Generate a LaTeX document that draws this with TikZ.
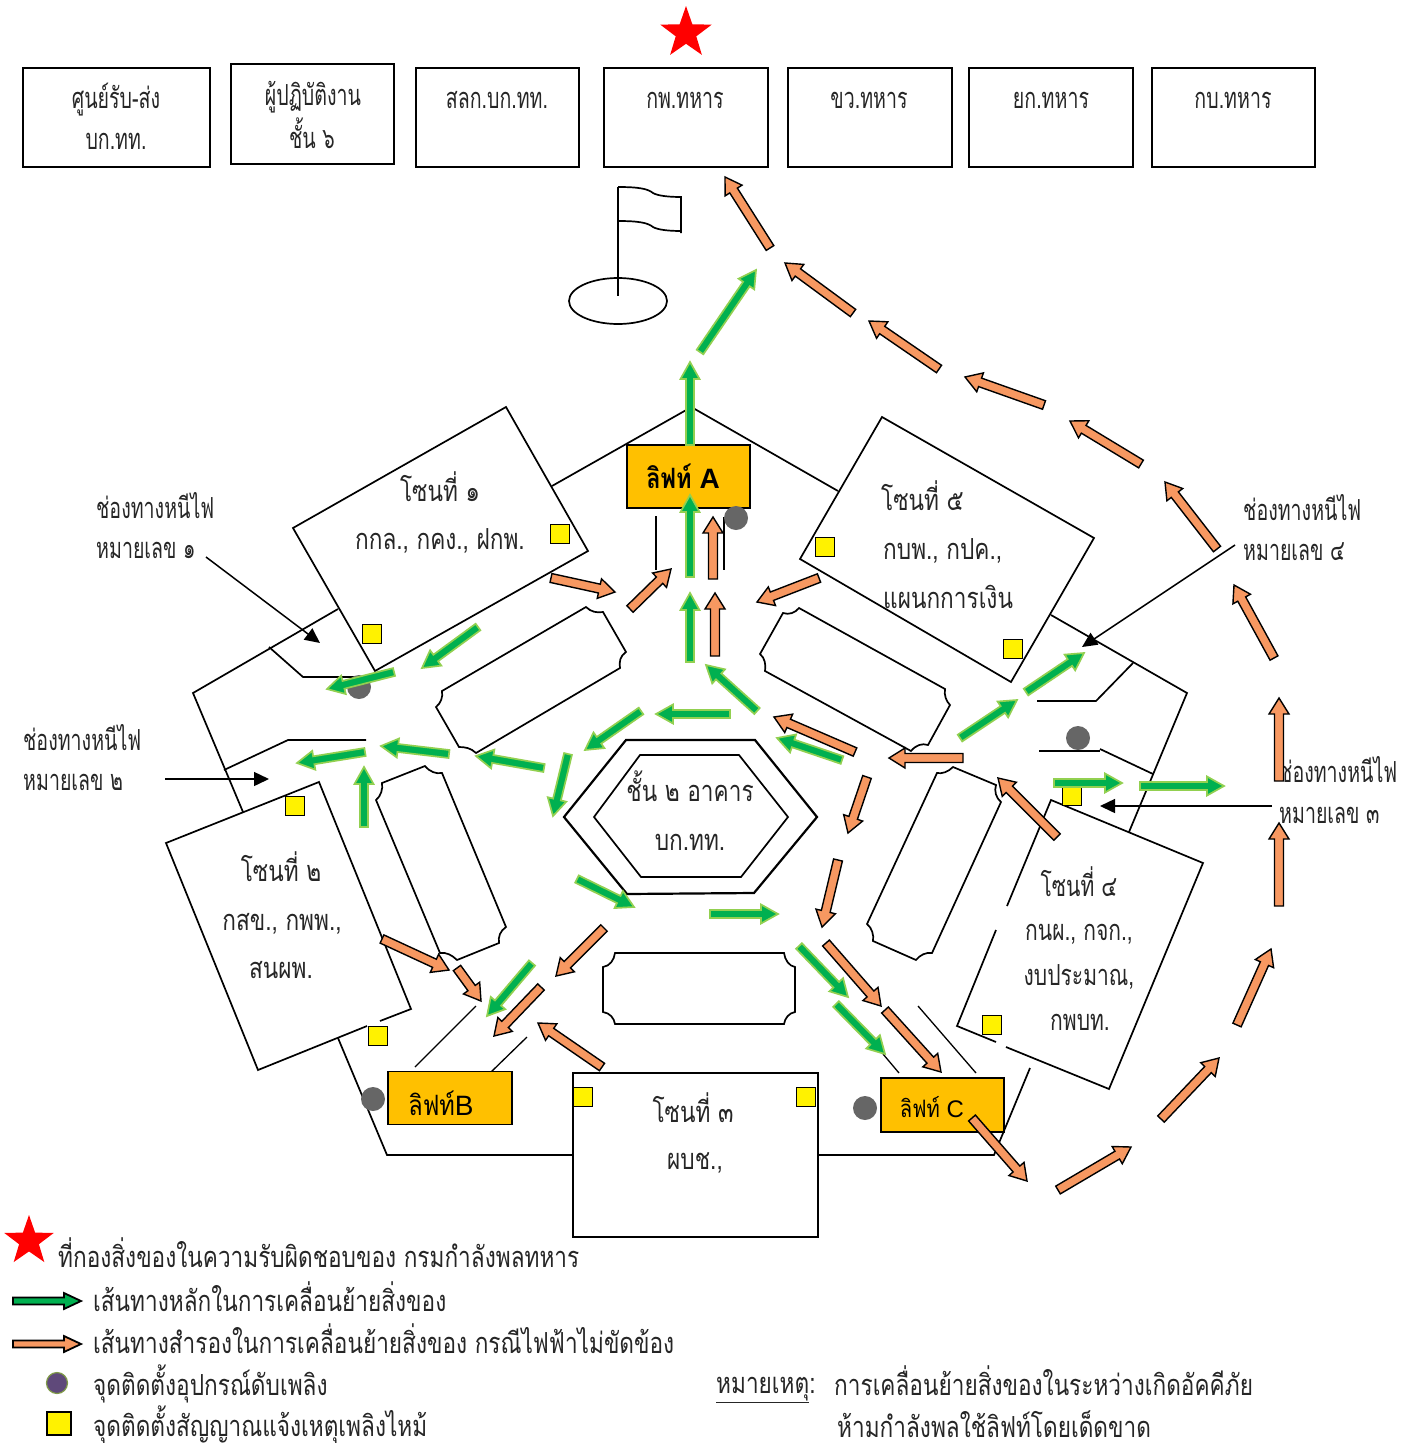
\documentclass[tikz,border=0pt]{standalone}
\usepackage{fontspec}
\usetikzlibrary{calc,shapes.geometric,arrows.meta}
\newfontfamily\thaifont[Script=Thai,FakeStretch=0.78]{Loma}
\newfontfamily\thainarrow[Script=Thai,FakeStretch=0.675]{Loma}
\newfontfamily\thaimid[Script=Thai,FakeStretch=0.725]{Loma}
\newfontfamily\liftfont[Script=Thai,FakeStretch=0.84]{Loma}
\newfontfamily\latinfont{Liberation Sans}
\definecolor{gfill}{HTML}{00B050}
\definecolor{gline}{HTML}{92D050}
\definecolor{ofill}{HTML}{F79861}
\definecolor{liftc}{HTML}{FFC000}
\definecolor{extc}{HTML}{666666}
\definecolor{txtc}{HTML}{262626}
\definecolor{legfill}{HTML}{5F497A}
\definecolor{legline}{HTML}{7F9A48}
\tikzset{
  wall/.style={draw=black,line width=1.7pt,line join=miter},
  thin wall/.style={draw=black,line width=1.3pt},
  tbox/.style={draw=black,line width=2pt,fill=white,inner sep=0pt,outer sep=0pt},
  lift/.style={draw=black,line width=1.7pt,fill=liftc,inner sep=0pt,outer sep=0pt},
  alarm/.style={draw=black,line width=1.7pt,fill=yellow,inner sep=0pt,minimum width=19pt,minimum height=19pt},
  ext/.style={circle,fill=extc,draw=none,inner sep=0pt,minimum size=24pt},
  lab/.style={font=\thaifont\fontsize{29}{34}\selectfont,text=txtc,inner sep=0pt},
  labl/.style={lab,anchor=west},
  labn/.style={font=\thainarrow\fontsize{29}{34}\selectfont,text=txtc,inner sep=0pt},
  labnl/.style={labn,anchor=west},
  labm/.style={font=\thaimid\fontsize{29}{34}\selectfont,text=txtc,inner sep=0pt},
  liftlab/.style={font=\liftfont\fontsize{28}{32}\selectfont,text=black,inner sep=0pt},
  star5/.style={star,star points=5,star point ratio=2.5,fill=red,draw=none,inner sep=0pt},
  ptr/.style={draw=black,line width=1.5pt,-{Triangle[length=15pt,width=14pt]}},
  garr/.style={draw=gline,line width=1.7pt,fill=gfill,line join=miter},
  oarr/.style={draw=black,line width=1.4pt,fill=ofill,line join=miter},
}
\newcommand\blockarr[6]{% style, shaft half, head half, head length, start, end
  \coordinate (aS) at (#5); \coordinate (aE) at (#6);
  \coordinate (aH) at ($(aE)!#4!(aS)$);
  \draw[#1] ($(aS)!#2!90:(aE)$) -- ($(aH)!#2!90:(aE)$) -- ($(aH)!#3!90:(aE)$) -- (aE)
     -- ($(aH)!#3!-90:(aE)$) -- ($(aH)!#2!-90:(aE)$) -- ($(aS)!#2!-90:(aE)$) -- cycle;}
\newcommand\garrow[2]{\blockarr{garr}{4pt}{9.5pt}{17pt}{#1}{#2}}
\newcommand\oarrow[2]{\blockarr{oarr}{4.5pt}{10pt}{16pt}{#1}{#2}}
\begin{document}
\begin{tikzpicture}[x=1pt,y=-1pt]
\useasboundingbox (0,0) rectangle (1410,1443);
% top boxes
\node[tbox,minimum width=187pt,minimum height=99pt] (b1) at (116.5,117.5) {};
\node[tbox,minimum width=163pt,minimum height=100pt] (b2) at (312.5,114) {};
\node[tbox,minimum width=163pt,minimum height=99pt] (b3) at (497.5,117.5) {};
\node[tbox,minimum width=164pt,minimum height=99pt] (b4) at (686,117.5) {};
\node[tbox,minimum width=164pt,minimum height=99pt] (b5) at (870,117.5) {};
\node[tbox,minimum width=164pt,minimum height=99pt] (b6) at (1051,117.5) {};
\node[tbox,minimum width=163pt,minimum height=99pt] (b7) at (1233.5,117.5) {};
\node[labn] (t1a) at (116,100) {ศูนย์รับ-ส่ง};
\node[labn] (t1b) at (116,141) {บก.ทท.};
\node[labn] (t2a) at (313,97) {ผู้ปฏิบัติงาน};
\node[labn] (t2b) at (312,133) {ชั้น ๖};
\node[labn] (t3) at (497,100) {สลก.บก.ทท.};
\node[labn] (t4) at (685,100) {กพ.ทหาร};
\node[labn] (t5) at (869,100) {ขว.ทหาร};
\node[labn] (t6) at (1051,100) {ยก.ทหาร};
\node[labn] (t7) at (1233,100) {กบ.ทหาร};
\node[star5,minimum size=54pt] (topstar) at (686,33) {};
% flag
\draw[wall] (618,187) -- (618,296);
\draw[wall] (618,187) .. controls (640,187) and (648,189) .. (653,193) .. controls (658,196) and (670,197) .. (681,197) -- (681,233);
\draw[wall] (618,221) .. controls (640,221) and (648,223) .. (653,227) .. controls (658,230) and (670,231) .. (681,231);
\draw[wall] (618,301) ellipse [x radius=49pt,y radius=23pt];
% building walls
\draw[wall] (552,486) -- (688,409);
\draw[wall] (693,408) -- (838,491);
\draw[wall] (338,609) -- (193,693) -- (243,812);
\draw[wall] (269,647) -- (303,677) -- (357,677);
\draw[wall] (224,770) -- (288,740) -- (366,740);
\draw[wall] (338,1038) -- (387,1155) -- (573,1155);
\draw[wall] (818,1155) -- (994,1155) -- (1030,1068);
\draw[wall] (1051,615) -- (1187,693) -- (1129,832);
\draw[wall] (1133,663) -- (1096,701) -- (1037,701);
\draw[wall] (1039,751) -- (1100,751);
\draw[wall] (1100,749) -- (1153,774);
% zones
\draw[wall] (506,407) -- (588,551) -- (375,671) -- (293,528) -- cycle;
\draw[wall] (882,417) -- (1094,538) -- (1011,682) -- (800,559) -- cycle;
\draw[wall] (367,1026) -- (258,1070) -- (166,843) -- (319,782) -- (411,1009) -- (380,1021);
\draw[wall] (996,930) -- (957,1026) -- (996,1042);
\draw[wall] (1006,1047) -- (1109,1089) -- (1203,863) -- (1051,800) -- (1007,906);
\draw[wall] (573,1073) rectangle (818,1237);
% centre hexagons
\draw[line width=2.2pt] (626,740) -- (755,740) -- (817,817) -- (754,893) -- (627,894) -- (564,817) -- cycle;
\draw[wall] (640,755) -- (739,755) -- (788,817) -- (741,877) -- (641,877) -- (594,817) -- cycle;
% inner blocks
\draw[wall] (442,691) -- (586,607) .. controls (591,612) and (597,613) .. (603,612) -- (626,652) .. controls (620,656) and (619,662) .. (620,668) -- (476,753) .. controls (471,748) and (465,747) .. (459,747) -- (436,707) .. controls (441,703) and (443,697) .. (442,691) -- cycle;
\draw[wall] (799,608) -- (945,689) .. controls (944,695) and (946,701) .. (950,705) -- (928,745) .. controls (922,743) and (916,745) .. (911,751) -- (765,671) .. controls (766,665) and (765,658) .. (760,654) -- (783,613) .. controls (789,615) and (795,613) .. (799,608) -- cycle;
\draw[wall] (425,766) .. controls (430,772) and (436,774) .. (442,773) -- (506,927) .. controls (500,931) and (498,937) .. (499,943) -- (457,960) .. controls (452,955) and (446,952) .. (440,953) -- (376,800) .. controls (381,796) and (383,789) .. (382,783) -- cycle;
\draw[wall] (953,767) .. controls (948,772) and (942,774) .. (937,773) -- (867,924) .. controls (872,928) and (874,935) .. (873,941) -- (916,960) .. controls (920,955) and (926,952) .. (932,953) -- (1001,802) .. controls (996,798) and (994,791) .. (996,785) -- cycle;
\draw[wall] (615,953) -- (784,953) .. controls (785,960) and (789,966) .. (795,967) -- (795,1012) .. controls (789,1013) and (785,1018) .. (784,1024) -- (615,1024) .. controls (614,1018) and (610,1013) .. (603,1012) -- (603,967) .. controls (610,966) and (614,960) .. (615,953) -- cycle;
% corridor lines by the lifts
\draw[thin wall] (476,1006) -- (415,1067);
\draw[thin wall] (527,1037) -- (490,1073);
\draw[thin wall] (918,1006) -- (976,1073);
\draw[thin wall] (883,1054) -- (899,1073);
\draw[thin wall] (656,516) -- (656,570);
\draw[thin wall] (724,517) -- (724,570);
% lifts
\node[lift,minimum width=123pt,minimum height=63pt] (liftA) at (688.5,476.5) {};
\node[lift,minimum width=124pt,minimum height=53pt] (liftB) at (450,1098) {};
\node[lift,minimum width=123pt,minimum height=54pt] (liftC) at (942.5,1105) {};
\node[liftlab] (lA) at (683,476) {\bfseries ลิฟท์ {\latinfont\bfseries A}};
\node[liftlab] (lB) at (441,1103) {ลิฟท์{\latinfont B}};
\node[liftlab,font=\liftfont\fontsize{24}{28}\selectfont] (lC) at (932,1107) {ลิฟท์ {\latinfont C}};
% extinguishers
\node[ext] (e1) at (359,687) {};
\node[ext] (e2) at (736,518) {};
\node[ext] (e3) at (1078,738) {};
\node[ext] (e4) at (373,1099) {};
\node[ext] (e5) at (865,1108) {};
% alarms
\node[alarm] (s1) at (560,534) {};
\node[alarm] (s2) at (372,634) {};
\node[alarm] (s3) at (295,806) {};
\node[alarm] (s4) at (378,1036) {};
\node[alarm] (s5) at (583,1097) {};
\node[alarm] (s6) at (806,1097) {};
\node[alarm] (s7) at (825,547) {};
\node[alarm] (s8) at (1013,649) {};
\node[alarm] (s9) at (1072,796) {};
\node[alarm] (s10) at (992,1025) {};
% zone text
\node[lab] (z1a) at (440,487) {โซนที่ ๑};
\node[lab] (z1b) at (440,541) {กกล., กคง., ฝกพ.};
\node[labl] (z5a) at (881,496) {โซนที่ ๕};
\node[labl] (z5b) at (883,551) {กบพ., กปค.,};
\node[labl] (z5c) at (883,597) {แผนกการเงิน};
\node[lab] (z2a) at (281,867) {โซนที่ ๒};
\node[lab] (z2b) at (282,924) {กสข., กพพ.,};
\node[lab] (z2c) at (281,970) {สนผพ.};
\node[lab] (z3a) at (693,1108) {โซนที่ ๓};
\node[lab] (z3b) at (695,1163) {ผบช.,};
\node[labm] (z4a) at (1079,882) {โซนที่ ๔};
\node[labm] (z4b) at (1079,934) {กนผ., กจก.,};
\node[labm] (z4c) at (1079,977) {งบประมาณ,};
\node[labm] (z4d) at (1080,1022) {กพบท.};
\node[lab] (ca) at (690,786) {ชั้น ๒ อาคาร};
\node[lab] (cb) at (690,842) {บก.ทท.};
% exit labels
\node[labnl] (x1a) at (96,506) {ช่องทางหนีไฟ};
\node[labnl] (x1b) at (96,550) {หมายเลข ๑};
\node[labnl] (x2a) at (23,738) {ช่องทางหนีไฟ};
\node[labnl] (x2b) at (23,782) {หมายเลข ๒};
\node[labnl] (x4a) at (1243,508) {ช่องทางหนีไฟ};
\node[labnl] (x4b) at (1243,552) {หมายเลข ๔};
\node[labnl] (x3a) at (1279,770) {ช่องทางหนีไฟ};
\node[labnl] (x3b) at (1279,815) {หมายเลข ๓};
% pointers
\coordinate (p1s) at (206,557); \coordinate (p1e) at (320,643);
\coordinate (p2s) at (165,779); \coordinate (p2e) at (269,779);
\coordinate (p4s) at (1235,545); \coordinate (p4e) at (1082,647);
\coordinate (p3s) at (1272,806); \coordinate (p3e) at (1100,806);
\draw[ptr] (p1s) -- (p1e);
\draw[ptr] (p2s) -- (p2e);
\draw[ptr] (p4s) -- (p4e);
\draw[ptr] (p3s) -- (p3e);
% green arrows
\garrow{690,445}{690,362}
\garrow{700,352}{756,270}
\garrow{690,577}{690,495}
\garrow{690,662}{690,593}
\garrow{757,711}{706,665}
\garrow{730,714}{656,714}
\garrow{641,711}{585,750}
\garrow{568,754}{553,816}
\garrow{544,768}{476,756}
\garrow{449,754}{381,746}
\garrow{365,752}{297,763}
\garrow{364,827}{364,767}
\garrow{394,672}{327,689}
\garrow{478,627}{422,668}
\garrow{842,760}{777,738}
\garrow{960,738}{1017,700}
\garrow{1026,692}{1084,653}
\garrow{1054,783}{1122,783}
\garrow{1140,786}{1224,786}
\garrow{577,879}{634,907}
\garrow{710,914}{778,914}
\garrow{799,946}{848,997}
\garrow{836,1004}{885,1054}
\garrow{532,963}{487,1016}
% orange arrows
\oarrow{770,248}{725,177}
\oarrow{853,313}{785,263}
\oarrow{939,369}{869,321}
\oarrow{1044,405}{965,377}
\oarrow{1141,464}{1070,421}
\oarrow{1217,549}{1165,482}
\oarrow{1274,658}{1234,585}
\oarrow{1279,781}{1279,698}
\oarrow{1279,906}{1279,823}
\oarrow{1237,1025}{1271,949}
\oarrow{1161,1119}{1219,1058}
\oarrow{1058,1190}{1131,1147}
\oarrow{972,1118}{1027,1181}
\oarrow{885,1010}{941,1072}
\oarrow{826,943}{881,1006}
\oarrow{838,860}{822,927}
\oarrow{867,777}{848,833}
\oarrow{963,758}{889,758}
\oarrow{855,752}{774,717}
\oarrow{1057,837}{998,778}
\oarrow{819,578}{757,602}
\oarrow{715,656}{715,593}
\oarrow{713,579}{713,517}
\oarrow{630,609}{671,569}
\oarrow{551,578}{615,592}
\oarrow{382,939}{449,970}
\oarrow{457,968}{481,1001}
\oarrow{604,928}{556,976}
\oarrow{541,987}{494,1036}
\oarrow{602,1067}{538,1023}
% legend
\node[star5,minimum size=52pt] (legstar) at (29,1241) {};
\node[labl] (l1) at (58,1253) {ที่กองสิ่งของในความรับผิดชอบของ กรมกำลังพลทหาร};
\blockarr{draw=black,line width=1.8pt,fill=gfill,line join=miter}{3.5pt}{8pt}{17pt}{13,1301}{81,1301}
\node[labl] (l2) at (93,1297) {เส้นทางหลักในการเคลื่อนย้ายสิ่งของ};
\blockarr{draw=black,line width=1.8pt,fill=ofill,line join=miter}{3.5pt}{8pt}{17pt}{13,1344}{81,1344}
\node[labl] (l3) at (93,1339) {เส้นทางสำรองในการเคลื่อนย้ายสิ่งของ กรณีไฟฟ้าไม่ขัดข้อง};
\node[circle,fill=legfill,draw=legline,line width=1.2pt,inner sep=0pt,minimum size=21pt] (legc) at (57,1383) {};
\node[labl] (l4) at (93,1384) {จุดติดตั้งอุปกรณ์ดับเพลิง};
\node[draw=black,line width=2pt,fill=yellow,inner sep=0pt,minimum width=24pt,minimum height=23pt] (legs) at (59,1423) {};
\node[labl] (l5) at (93,1425) {จุดติดตั้งสัญญาณแจ้งเหตุเพลิงไหม้};
\node[labl] (n0) at (716,1390) {\underline{หมายเหตุ}:};
\node[labl] (n1) at (834,1381) {การเคลื่อนย้ายสิ่งของในระหว่างเกิดอัคคีภัย};
\node[labl] (n2) at (837,1424) {ห้ามกำลังพลใช้ลิฟท์โดยเด็ดขาด};
\end{tikzpicture}
\end{document}
